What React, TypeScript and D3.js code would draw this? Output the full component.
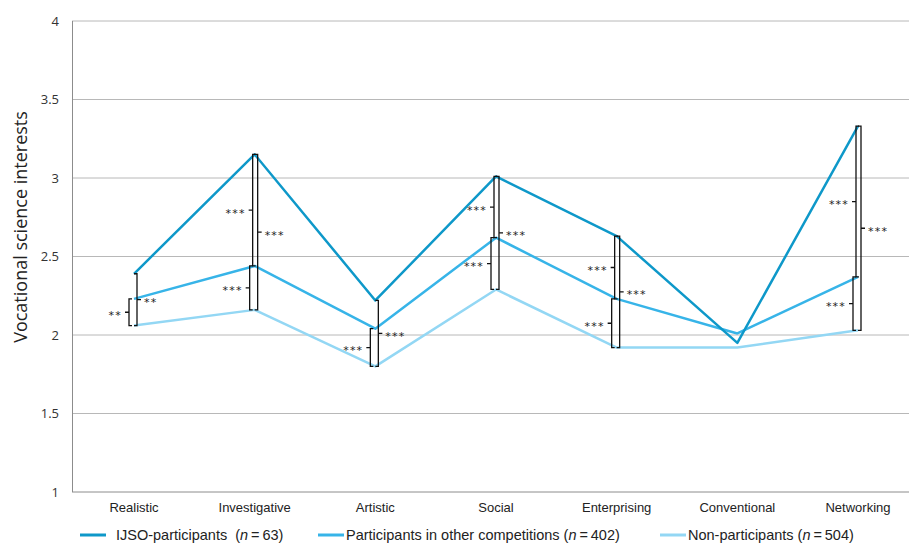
import React from "react";
import * as d3 from "d3";

const categories = ["Realistic", "Investigative", "Artistic", "Social", "Enterprising", "Conventional", "Networking"];
const ijso = [2.39, 3.15, 2.22, 3.01, 2.63, 1.95, 3.33];
const other = [2.23, 2.44, 2.04, 2.62, 2.23, 2.01, 2.37];
const nonPart = [2.06, 2.16, 1.8, 2.29, 1.92, 1.92, 2.03];
const yTicks = [1, 1.5, 2, 2.5, 3, 3.5, 4];

const seriesNames = ["ijso", "other", "non"];
const seriesLabels = ["IJSO-participants", "Participants in other competitions", "Non-participants"];
const seriesN = [63, 402, 504];

// significance brackets: category, upper series, lower series, side, label
const brackets = [
  { cat: "Realistic", from: "other", to: "non", side: "left", label: "**" },
  { cat: "Realistic", from: "ijso", to: "non", side: "right", label: "**" },
  { cat: "Investigative", from: "ijso", to: "other", side: "left", label: "***" },
  { cat: "Investigative", from: "other", to: "non", side: "left", label: "***" },
  { cat: "Investigative", from: "ijso", to: "non", side: "right", label: "***" },
  { cat: "Artistic", from: "other", to: "non", side: "left", label: "***" },
  { cat: "Artistic", from: "ijso", to: "non", side: "right", label: "***" },
  { cat: "Social", from: "ijso", to: "other", side: "left", label: "***" },
  { cat: "Social", from: "other", to: "non", side: "left", label: "***" },
  { cat: "Social", from: "ijso", to: "non", side: "right", label: "***" },
  { cat: "Enterprising", from: "ijso", to: "other", side: "left", label: "***" },
  { cat: "Enterprising", from: "other", to: "non", side: "left", label: "***" },
  { cat: "Enterprising", from: "ijso", to: "non", side: "right", label: "***" },
  { cat: "Networking", from: "ijso", to: "other", side: "left", label: "***" },
  { cat: "Networking", from: "other", to: "non", side: "left", label: "***" },
  { cat: "Networking", from: "ijso", to: "non", side: "right", label: "***" },
];

const COLORS: Record<string, string> = { ijso: "#0e98c9", other: "#37b4e8", non: "#93d7f4" };
const FONT = "'Open Sans', sans-serif";
const NARROW = "'Liberation Sans Narrow', 'Liberation Sans', sans-serif";

export default function App() {
  const W = 909, H = 544;
  const left = 72, right = 909, top = 21, bottom = 492;
  const x = d3.scalePoint<string>().domain(categories).range([134, 858]);
  const y = d3.scaleLinear().domain([1, 4]).range([bottom, top]);
  const data: Record<string, number[]> = { ijso, other, non: nonPart };
  const line = d3.line<number>().x((_, i) => x(categories[i])!).y((d) => y(d));

  const legendX = [80, 318, 660];

  return (
    <svg width={W} height={H} style={{ position: "absolute", left: 0, top: 0 }}>
      <rect width={W} height={H} fill="#fff" />
      {yTicks.map((t) => (
        <g key={t}>
          <line x1={left} x2={right} y1={y(t)} y2={y(t)} stroke={t === 1 ? "#8c8c8c" : "#b8b8b8"} strokeWidth={1} />
          <text x={59} y={y(t) + 4.5} textAnchor="end" fontFamily={FONT} fontSize={13} fill="#333">{t}</text>
        </g>
      ))}
      <line x1={left + 0.5} x2={left + 0.5} y1={top} y2={bottom} stroke="#8c8c8c" />
      <text transform={`translate(27,227) rotate(-90)`} textAnchor="middle" fontFamily={FONT} fontSize={18} fill="#222">
        Vocational science interests
      </text>
      {categories.map((c) => (
        <text key={c} x={x(c)} y={512} textAnchor="middle" fontFamily={NARROW} fontSize={13} fill="#222">{c}</text>
      ))}
      {seriesNames.slice().reverse().map((s) => (
        <path key={s} d={line(data[s])!} fill="none" stroke={COLORS[s]} strokeWidth={2.5} strokeLinejoin="round" />
      ))}
      {brackets.map((b, i) => {
        const idx = categories.indexOf(b.cat);
        const cx = x(b.cat)!;
        const y1 = y(data[b.from][idx]);
        const y2 = y(data[b.to][idx]);
        const mid = (y1 + y2) / 2;
        const isLeft = b.side === "left";
        const bx = isLeft ? (b.from === "ijso" ? cx - 2 : cx - 5) : cx + 3;
        const dir = isLeft ? -1 : 1;
        const cap = 3 * -dir;
        const d = `M${bx + cap},${y1} L${bx},${y1} L${bx},${y2} L${bx + cap},${y2} M${bx},${mid} L${bx + dir * 4},${mid}`;
        return (
          <g key={i}>
            <path d={d} fill="none" stroke="#111" strokeWidth={1.3} />
            <text
              x={bx + dir * 7}
              y={mid + 6.5}
              textAnchor={isLeft ? "end" : "start"}
              fontFamily="'DejaVu Sans', sans-serif"
              fontSize={11}
              letterSpacing={1.2}
              fill="#222"
            >
              {b.label}
            </text>
          </g>
        );
      })}
      {seriesNames.map((s, i) => (
        <g key={s}>
          <line x1={legendX[i]} x2={legendX[i] + 26} y1={535} y2={535} stroke={COLORS[s]} strokeWidth={3} />
          <text x={legendX[i] + (i === 0 ? 36 : 28)} y={539.5} fontFamily={NARROW} fontSize={14.5} fill="#222">
            {seriesLabels[i]}
            {i === 0 ? "\u00a0\u00a0(" : " ("}
            <tspan fontStyle="italic">n</tspan>
            {`\u2009=\u2009${seriesN[i]})`}
          </text>
        </g>
      ))}
    </svg>
  );
}
